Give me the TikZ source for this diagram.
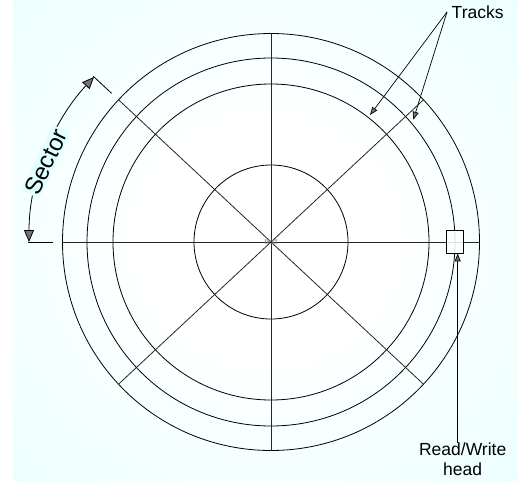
\documentclass[tikz,border=0pt]{standalone}
\usepackage{fontspec}
\setmainfont{Liberation Sans}
\usetikzlibrary{arrows.meta, positioning}

\definecolor{BgCyan}{RGB}{224,255,255}
\pgfdeclareradialshading{diskglow}{\pgfpoint{0bp}{0bp}}{color(0bp)=(white); color(12bp)=(white); color(50bp)=(BgCyan)}

\tikzset{
    Sec/.tip={Triangle[length=12pt, width=10pt, fill=black!55]},
    Ptr/.tip={Triangle[length=8pt, width=6pt, fill=black!55]}
}

\begin{document}
\begin{tikzpicture}[x=1pt, y=1pt,
    track/.style={black, line width=0.8pt},
    spoke/.style={black!85, line width=0.8pt},
    pointer/.style={black, line width=0.7pt, -Ptr},
    label/.style={font=\fontsize{17.5}{20}\selectfont, text=black}]

    % =================================================================
    % 1. KHUNG HINH VA NEN
    % =================================================================
    \useasboundingbox (-271,-240) rectangle (247,242);
    \fill[BgCyan] (-258,-238) rectangle (247,242);
    \shade[shading=diskglow] (-258,-238) rectangle (247,242);

    % =================================================================
    % 2. CAC RANH (TRACK) CUA DIA
    % =================================================================
    \coordinate (Center) at (0,0);
    \foreach \r in {208.5, 184, 158, 77} {
        \draw[track] (Center) circle (\r);
    }

    % Cac duong chia sector qua tam
    \draw[spoke] (-208.5,0) -- (208.5,0);
    \draw[spoke] (0,-208.5) -- (0,208.5);
    \draw[spoke] (43:208.5) -- (223:208.5);
    \draw[spoke] (137:208.5) -- (317:208.5);

    \node[font=\fontsize{8}{8}\selectfont, text=gray, inner sep=0pt] (ctr) at (Center) {text};

    % =================================================================
    % 3. DAU DOC/GHI
    % =================================================================
    \node[draw=black, line width=0.8pt, fill=white, fill opacity=0.85,
          minimum width=17pt, minimum height=22.6pt, inner sep=0pt] (head) at (183.7,0.3) {};

    % =================================================================
    % 4. KICH THUOC SECTOR
    % =================================================================
    \draw[track] (180:218) -- (180:243);
    \draw[track] (137:218) -- (137:243);
    \draw[track, Sec-Sec] (180:242) arc[start angle=180, end angle=137, radius=242];
    \node[font=\fontsize{24}{26}\selectfont, fill=BgCyan, inner sep=1.5pt, rotate=64] (sector) at (160.4:239) {Sector};

    % =================================================================
    % 5. NHAN VA MUI TEN CHI
    % =================================================================
    \node[label, anchor=west, inner sep=4.5pt] (tracks) at (176,230) {Tracks};
    \coordinate (TrackA) at (99,127);
    \coordinate (TrackB) at (142.3,122.3);
    \draw[pointer] (tracks.west) -- (TrackA);
    \draw[pointer] (tracks.west) -- (TrackB);

    \node[label, anchor=north, align=center, inner sep=0pt] (rwlabel) at (191.7,-201) {Read/Write\\head};
    \draw[pointer] ([xshift=3pt]head.south |- rwlabel.north) -- ([xshift=3pt]head.south);

\end{tikzpicture}
\end{document}
